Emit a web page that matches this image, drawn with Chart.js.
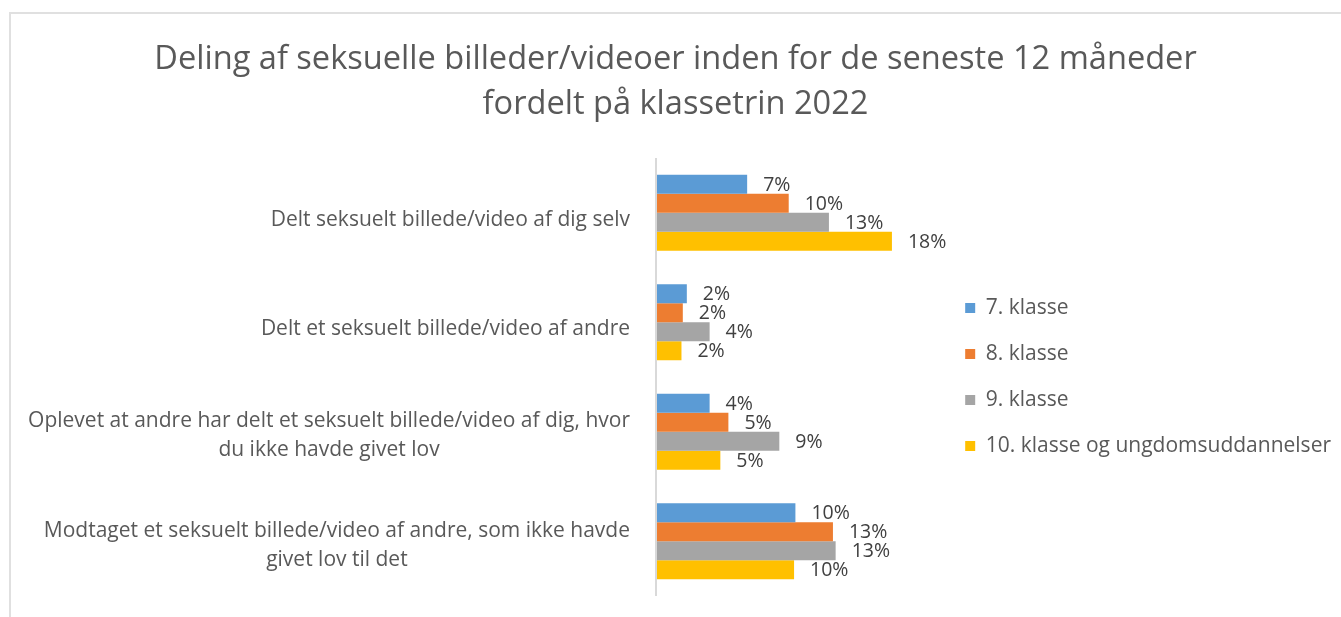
<!DOCTYPE html>
<html>
<head>
<meta charset="utf-8">
<script src="https://cdn.jsdelivr.net/npm/chart.js@4.4.1/dist/chart.umd.min.js"></script>
<style>
  html, body { margin: 0; padding: 0; background: #fff; overflow: hidden; }
  .frame {
    position: absolute; left: 9px; top: 12px; width: 1400px; height: 700px;
    border: 2px solid #e0e0e0; box-sizing: border-box;
  }
  canvas { position: absolute; left: 0; top: 0; }
</style>
</head>
<body>
<div class="frame"></div>
<canvas id="chart" width="1341" height="617"></canvas>
<script>
// categories (each entry = lines of the axis label)
const categories = [
  ["Delt seksuelt billede/video af dig selv"],
  ["Delt et seksuelt billede/video af andre"],
  ["Oplevet at andre har delt et seksuelt billede/video af dig, hvor", "du ikke havde givet lov"],
  ["Modtaget et seksuelt billede/video af andre, som ikke havde", "givet lov til det"]
];

const seriesNames = ["7. klasse", "8. klasse", "9. klasse", "10. klasse og ungdomsuddannelser"];

// shares
const klasse7 = [0.068, 0.023, 0.040, 0.104];
const klasse8 = [0.099, 0.020, 0.054, 0.132];
const klasse9 = [0.129, 0.040, 0.092, 0.134];
const klasse10 = [0.176, 0.019, 0.048, 0.103];

const colors = ["#5B9BD5", "#ED7D31", "#A5A5A5", "#FFC000"];

const FONT = "'Open Sans', 'DejaVu Sans', sans-serif";

// value labels right of each bar
const valueLabels = {
  id: "valueLabels",
  afterDatasetsDraw(chart) {
    const ctx = chart.ctx;
    ctx.save();
    ctx.font = "19.5px " + FONT;
    ctx.fillStyle = "#404040";
    ctx.textAlign = "left";
    ctx.textBaseline = "middle";
    chart.data.datasets.forEach((ds, di) => {
      chart.getDatasetMeta(di).data.forEach((bar, i) => {
        ctx.fillText(Math.round(ds.data[i] * 100) + "%", bar.x + 16, bar.y + 1);
      });
    });
    ctx.restore();
  }
};

// category axis: line at the left of the plot, labels right aligned as a
// block with the lines centred inside it
const categoryAxis = {
  id: "categoryAxis",
  afterDraw(chart) {
    const ctx = chart.ctx;
    const area = chart.chartArea;
    const yScale = chart.scales.y;
    ctx.save();
    ctx.strokeStyle = "#d9d9d9";
    ctx.lineWidth = 2;
    ctx.beginPath();
    ctx.moveTo(area.left, area.top);
    ctx.lineTo(area.left, area.bottom);
    ctx.stroke();

    const right = 630;
    const lh = 29;
    ctx.font = "21px " + FONT;
    ctx.fillStyle = "#595959";
    ctx.textAlign = "center";
    ctx.textBaseline = "middle";
    categories.forEach((lines, i) => {
      const w = Math.max(...lines.map(l => ctx.measureText(l).width));
      const cx = right - w / 2;
      const yc = yScale.getPixelForTick(i) + (lines.length === 1 ? 7 : 4);
      lines.forEach((l, j) => {
        ctx.fillText(l, cx, yc + (j - (lines.length - 1) / 2) * lh);
      });
    });
    ctx.restore();
  }
};

new Chart(document.getElementById("chart"), {
  type: "bar",
  data: {
    labels: categories.map(c => c.join(" ")),
    datasets: [klasse7, klasse8, klasse9, klasse10].map((d, i) => ({
      label: seriesNames[i],
      data: d,
      backgroundColor: colors[i],
      borderWidth: 0,
      categoryPercentage: 0.693,
      barPercentage: 1.0
    }))
  },
  options: {
    indexAxis: "y",
    responsive: false,
    animation: false,
    layout: { padding: { left: 10, right: 0, top: 0, bottom: 21 } },
    scales: {
      x: { display: false, min: 0, max: 0.212 },
      y: {
        display: false,
        afterFit(scale) { scale.width = 646; }
      }
    },
    plugins: {
      title: {
        display: true,
        text: [
          "Deling af seksuelle billeder/videoer inden for de seneste 12 måneder",
          "fordelt på klassetrin 2022"
        ],
        color: "#595959",
        font: { family: FONT, size: 32.6, weight: "normal", lineHeight: 1.38 },
        padding: { top: 37, bottom: 31 }
      },
      legend: {
        position: "right",
        fullSize: false,
        labels: {
          boxWidth: 10,
          boxHeight: 10,
          padding: 25,
          color: "#595959",
          font: { family: FONT, size: 21 }
        }
      },
      tooltip: { enabled: false }
    }
  },
  plugins: [valueLabels, categoryAxis]
});
</script>
</body>
</html>
